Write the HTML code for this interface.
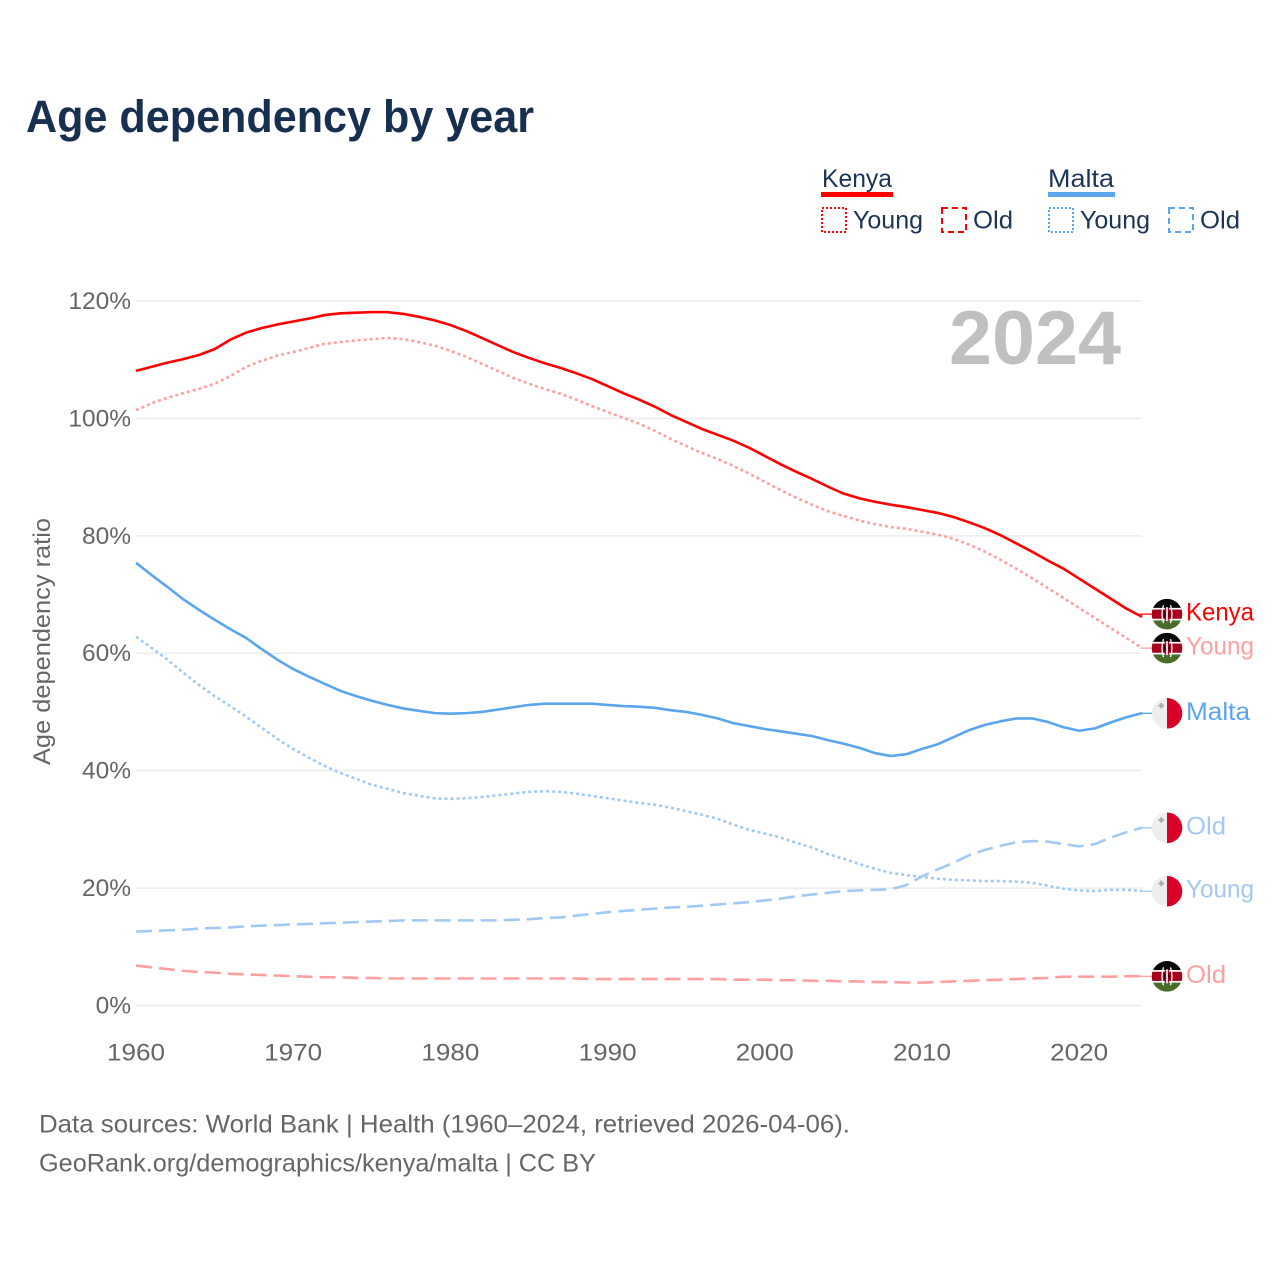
<!DOCTYPE html>
<html lang="en">
<head>
<meta charset="utf-8">
<title>Age dependency by year</title>
<style>
html,body{margin:0;padding:0;background:#fff;}
svg{display:block;font-family:"Liberation Sans",sans-serif;}
</style>
</head>
<body>
<svg id="chart" width="1280" height="1280" viewBox="0 0 1280 1280" xmlns="http://www.w3.org/2000/svg">
  <defs>
    <clipPath id="flag-clip"><circle cx="0" cy="0" r="15.3"></circle></clipPath>
    <g id="flag-kenya" clip-path="url(#flag-clip)">
      <rect x="-16" y="-16" width="32" height="32" fill="#fff"></rect>
      <rect x="-16" y="-16" width="32" height="9.7" fill="#050505"></rect>
      <rect x="-16" y="-4.6" width="32" height="9.2" fill="#a6001c"></rect>
      <rect x="-16" y="6.3" width="32" height="9.7" fill="#4a6c2b"></rect>
      <path d="M-3.5 -9 Q-6.5 0 -3.5 9 M3.5 -9 Q6.5 0 3.5 9" fill="none" stroke="#fff" stroke-width="1.3"></path>
      <ellipse cx="0" cy="0" rx="3.4" ry="7" fill="#a6001c"></ellipse>
      <rect x="-0.8" y="-7" width="1.6" height="14" fill="#fff"></rect>
      <rect x="-3" y="-3" width="1.4" height="6" fill="#111"></rect>
      <rect x="1.6" y="-3" width="1.4" height="6" fill="#111"></rect>
    </g>
    <g id="flag-malta" clip-path="url(#flag-clip)">
      <rect x="-16" y="-16" width="16" height="32" fill="#eeeeee"></rect>
      <rect x="0" y="-16" width="16" height="32" fill="#d80027"></rect>
      <path d="M-5.7 -10.5V-5M-8.5 -7.7H-3" stroke="#a8a8a8" stroke-width="2" fill="none"></path>
    </g>
  </defs>

  <text x="26" y="132" font-size="45" font-weight="700" fill="#18304f" textLength="508" lengthAdjust="spacingAndGlyphs">Age dependency by year</text>

  <g font-size="25" fill="#1c3557">
    <text x="822" y="187" textLength="70" lengthAdjust="spacingAndGlyphs">Kenya</text>
    <rect x="821" y="192" width="72" height="5" fill="#ff0000"></rect>
    <rect x="822" y="208" width="24" height="24" fill="none" stroke="#ff0000" stroke-width="2" stroke-dasharray="2 2"></rect>
    <text x="853" y="228.5" textLength="70" lengthAdjust="spacingAndGlyphs">Young</text>
    <rect x="942" y="208" width="24" height="24" fill="none" stroke="#ff0000" stroke-width="2" stroke-dasharray="6 4"></rect>
    <text x="973" y="228.5" textLength="40" lengthAdjust="spacingAndGlyphs">Old</text>
    <text x="1048" y="187" textLength="66" lengthAdjust="spacingAndGlyphs">Malta</text>
    <rect x="1048" y="192" width="67" height="5" fill="#5ba5ee"></rect>
    <rect x="1049" y="208" width="24" height="24" fill="none" stroke="#5ba5ee" stroke-width="2" stroke-dasharray="2 2"></rect>
    <text x="1080" y="228.5" textLength="70" lengthAdjust="spacingAndGlyphs">Young</text>
    <rect x="1169" y="208" width="24" height="24" fill="none" stroke="#5ba5ee" stroke-width="2" stroke-dasharray="6 4"></rect>
    <text x="1200" y="228.5" textLength="40" lengthAdjust="spacingAndGlyphs">Old</text>
  </g>

  <g id="grid"></g>
  <g id="y-ticks"></g>
  <g id="x-ticks"></g>

  <text transform="translate(50,765) rotate(-90)" font-size="24" fill="#666666" textLength="247" lengthAdjust="spacingAndGlyphs">Age dependency ratio</text>
  <text x="949" y="364" font-size="76" font-weight="700" fill="#c0c0c0" textLength="172" lengthAdjust="spacingAndGlyphs">2024</text>

  <g id="series"></g>
  <g id="end-labels"></g>

  <text x="39" y="1132.5" font-size="25" fill="#666666" textLength="811" lengthAdjust="spacingAndGlyphs">Data sources: World Bank | Health (1960–2024, retrieved 2026-04-06).</text>
  <text x="39" y="1171.5" font-size="25" fill="#666666" textLength="557" lengthAdjust="spacingAndGlyphs">GeoRank.org/demographics/kenya/malta | CC BY</text>
</svg>

<script>
const startYear = 1960;
const yTickValues = [0, 20, 40, 60, 80, 100, 120];
const yTickLabels = ["0%", "20%", "40%", "60%", "80%", "100%", "120%"];
const xTickYears = [1960, 1970, 1980, 1990, 2000, 2010, 2020];
const xTickLabels = ["1960", "1970", "1980", "1990", "2000", "2010", "2020"];

const kenyaTotal = [
  108.1,108.8,109.5,110.1,110.8,111.8,113.4,114.6,115.4,116.0,
  116.5,117.0,117.6,117.9,118.0,118.1,118.1,117.8,117.3,116.7,
  115.9,114.9,113.7,112.5,111.3,110.3,109.4,108.6,107.7,106.7,
  105.5,104.3,103.2,102.0,100.6,99.4,98.2,97.2,96.2,95.0,
  93.6,92.2,90.9,89.7,88.4,87.2,86.4,85.8,85.3,84.9,
  84.4,83.9,83.2,82.3,81.3,80.1,78.7,77.3,75.8,74.4,
  72.7,71.0,69.3,67.6,66.2
];
const kenyaYoung = [
  101.4,102.6,103.5,104.3,105.0,105.9,107.2,108.8,109.8,110.7,
  111.3,112.0,112.7,113.0,113.3,113.5,113.7,113.5,113.0,112.4,
  111.5,110.5,109.3,108.1,106.9,105.9,105.0,104.2,103.2,102.1,
  101.1,100.1,99.1,97.9,96.5,95.3,94.1,93.1,91.9,90.6,
  89.2,87.8,86.5,85.3,84.2,83.4,82.6,82.0,81.5,81.2,
  80.7,80.2,79.5,78.5,77.3,75.9,74.4,72.8,71.1,69.4,
  67.7,66.0,64.3,62.6,60.9
];
const kenyaOld = [
  6.8,6.5,6.2,5.9,5.7,5.6,5.4,5.3,5.2,5.1,
  5.0,4.9,4.8,4.8,4.7,4.7,4.6,4.6,4.6,4.6,
  4.6,4.6,4.6,4.6,4.6,4.6,4.6,4.6,4.6,4.5,
  4.5,4.5,4.5,4.5,4.5,4.5,4.5,4.5,4.4,4.4,
  4.4,4.3,4.3,4.2,4.2,4.1,4.1,4.0,4.0,3.9,
  3.9,4.0,4.1,4.2,4.3,4.4,4.5,4.6,4.7,4.9,
  4.9,4.9,4.9,5.0,5.0
];
const maltaTotal = [
  75.4,73.3,71.3,69.2,67.4,65.7,64.1,62.6,60.7,58.9,
  57.3,56.0,54.8,53.6,52.7,51.9,51.2,50.6,50.2,49.8,
  49.7,49.8,50.0,50.4,50.8,51.2,51.4,51.4,51.4,51.4,
  51.2,51.0,50.9,50.7,50.3,50.0,49.5,48.9,48.1,47.6,
  47.1,46.7,46.3,45.9,45.2,44.6,43.9,43.0,42.5,42.8,
  43.7,44.5,45.7,46.9,47.8,48.4,48.9,48.9,48.3,47.4,
  46.8,47.2,48.2,49.1,49.8
];
const maltaYoung = [
  62.8,60.9,58.9,56.7,54.6,52.7,51.0,49.2,47.3,45.4,
  43.7,42.2,40.8,39.6,38.6,37.6,36.9,36.2,35.7,35.3,
  35.2,35.3,35.5,35.8,36.1,36.4,36.5,36.4,36.1,35.7,
  35.3,34.9,34.5,34.2,33.7,33.1,32.5,31.8,30.8,29.9,
  29.3,28.6,27.7,26.9,25.8,25.0,24.1,23.3,22.6,22.2,
  21.9,21.6,21.4,21.3,21.2,21.2,21.1,20.9,20.4,19.9,
  19.6,19.5,19.7,19.7,19.5
];
const maltaOld = [
  12.6,12.7,12.8,12.9,13.1,13.2,13.3,13.5,13.6,13.7,
  13.8,13.9,14.0,14.1,14.2,14.3,14.4,14.5,14.5,14.5,
  14.5,14.5,14.5,14.5,14.6,14.7,14.9,15.0,15.3,15.6,
  15.9,16.1,16.3,16.5,16.7,16.8,17.0,17.2,17.4,17.6,
  17.9,18.2,18.6,18.9,19.2,19.5,19.6,19.7,19.8,20.5,
  22.0,23.2,24.3,25.6,26.5,27.2,27.8,28.0,27.9,27.5,
  27.1,27.5,28.6,29.5,30.3
];

const NS = "http://www.w3.org/2000/svg";
const xScale = year => 136 + (year - 1960) * 15.72;
const yScale = value => 1005.5 - value * 5.871;

function make(tag, parent, attrs, text) {
  const el = document.createElementNS(NS, tag);
  for (const k in attrs) el.setAttribute(k, attrs[k]);
  if (text !== undefined) el.textContent = text;
  parent.appendChild(el);
  return el;
}

const gridGroup = document.getElementById("grid");
const yTickGroup = document.getElementById("y-ticks");
yTickValues.forEach((v, i) => {
  const line = make("line", gridGroup, {x1: 136, x2: 1142, y1: yScale(v), y2: yScale(v), stroke: "#ececec", "stroke-width": 1.5});
  
  
  const label = make("text", yTickGroup, {x: 131, y: yScale(v) + 8, "text-anchor": "end", "font-size": 24.5, fill: "#666666"}, yTickLabels[i]);
  
  
});

const xTickGroup = document.getElementById("x-ticks");
xTickYears.forEach((yr, i) => {
  const label = make("text", xTickGroup, {x: xScale(yr) - 29, y: 1060.5, "font-size": 24.5, fill: "#666666", textLength: 58, lengthAdjust: "spacingAndGlyphs"}, xTickLabels[i]);
  
  
});

const kenyaRed = "#ff0000", kenyaPale = "#ffa0a0", maltaBlue = "#5ba5ee", maltaPale = "#a2c9f3";
const dotted = "3 3", dashed = "16 7";
const seriesList = [
  {id: "kenya-young", values: kenyaYoung, color: kenyaPale, dash: dotted, label: "Young", flag: "flag-kenya", w: 68},
  {id: "kenya-old", values: kenyaOld, color: kenyaPale, dash: dashed, label: "Old", flag: "flag-kenya", w: 40},
  {id: "kenya-total", values: kenyaTotal, color: kenyaRed, dash: "none", label: "Kenya", flag: "flag-kenya", w: 68},
  {id: "malta-young", values: maltaYoung, color: maltaPale, dash: dotted, label: "Young", flag: "flag-malta", w: 68},
  {id: "malta-old", values: maltaOld, color: maltaPale, dash: dashed, label: "Old", flag: "flag-malta", w: 40},
  {id: "malta-total", values: maltaTotal, color: maltaBlue, dash: "none", label: "Malta", flag: "flag-malta", w: 64}
];

const seriesGroup = document.getElementById("series");
seriesList.forEach(s => {
  const d = s.values.map((v, i) => (i ? "L" : "M") + xScale(startYear + i).toFixed(2) + " " + yScale(v).toFixed(2)).join("");
  const path = make("path", seriesGroup, {d: d, fill: "none", stroke: s.color, "stroke-width": 2.6, "stroke-linejoin": "round", "stroke-dasharray": s.dash});
  
  
});

/* end labels sit beside the last data point, pushed apart when they would overlap */
const ends = seriesList.map(s => {
  const last = s.values[s.values.length - 1];
  return {s: s, lineY: yScale(last), y: yScale(last) + 0.2};
}).sort((a, b) => a.y - b.y);
for (let i = ends.length - 1; i > 0; i--) {
  if (ends[i].y - ends[i - 1].y < 34) ends[i - 1].y = ends[i].y - 34;
}
const endGroup = document.getElementById("end-labels");
const lastX = xScale(startYear + kenyaTotal.length - 1);
ends.forEach(e => {
  const leader = make("polyline", endGroup, {points: (lastX - 1) + "," + e.lineY + " " + (lastX - 1) + "," + e.y + " 1152," + e.y, fill: "none", stroke: e.s.color, "stroke-width": 1.3});
  
  
  const flag = make("use", endGroup, {href: "#" + e.s.flag, transform: "translate(1167," + e.y + ")"});
  
  
  const label = make("text", endGroup, {x: 1186, y: e.y + 6.5, "font-size": 25, fill: e.s.color, textLength: e.s.w, lengthAdjust: "spacingAndGlyphs"}, e.s.label);
  
  
});
</script>
</body>
</html>
